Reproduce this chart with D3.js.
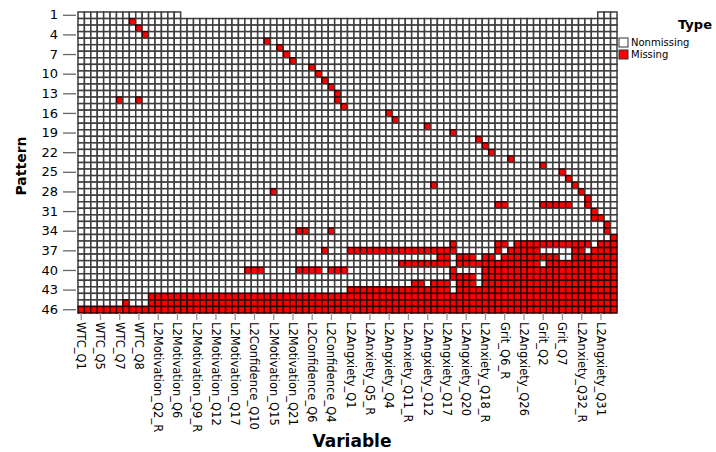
<!DOCTYPE html>
<html>
<head>
<meta charset="utf-8">
<script src="https://cdn.jsdelivr.net/npm/d3@7/dist/d3.min.js"></script>
<style>
  body { margin: 0; background: #fff; }
  text { font-family: "DejaVu Sans", sans-serif; }
</style>
</head>
<body>
<script>
const width  = 716
const height = 452

// labelled variables (every third column carries a label)
const varLabels = [
  "WTC_Q1", "WTC_Q5", "WTC_Q7", "WTC_Q8",
  "L2Motivation_Q2_R", "L2Motivation_Q6", "L2Motivation_Q9_R", "L2Motivation_Q12",
  "L2Motivation_Q17", "L2Confidence_Q10", "L2Motivation_Q15", "L2Motivation_Q21",
  "L2Confidence_Q6", "L2Confidence_Q4", "L2Angxiety_Q1", "L2Anxiety_Q5_R",
  "L2Angxiety_Q4", "L2Anxiety_Q11_R", "L2Angxiety_Q12", "L2Angxiety_Q17",
  "L2Angxiety_Q20", "L2Anxiety_Q18_R", "Grit_Q6_R", "L2Angxiety_Q26",
  "Grit_Q2", "Grit_Q7", "L2Anxiety_Q32_R", "L2Angxiety_Q31"
]
const colsPerLabel = 3

const patterns = d3.range(1, 47)

// missing columns for each pattern (1..46)
const missing = [
  "",                                   // 1
  "8", "9", "10",                       // 2-4
  "29", "31", "32", "33",               // 5-8
  "36", "37", "38", "39", "40",         // 9-13
  "6,9,40", "41",                       // 14-15
  "48", "49", "54", "58",               // 16-19
  "62", "63", "64", "67",               // 20-23
  "72", "75", "76", "55,77",            // 24-27
  "30,78", "79", "65-66,72-76,79",      // 28-30
  "80", "80-81", "82",                  // 31-33
  "34-35,39,82", "83",                  // 34-35
  "58,65-66,68-79,81-83",               // 36
  "38,42-58,65,67-71,77-78,80-83",      // 37
  "56-57,59-61,63-64,66-74,77-83",      // 38
  "50-57,59-71,73-83",                  // 39
  "26-28,34-37,39-41,58,63-83",         // 40
  "58-61,63-83",                        // 41
  "52-53,55-57,59-61,63-83",            // 42
  "42-57,59-83",                        // 43
  "11-83",                              // 44
  "7,11-83",                            // 45
  "0-83"                                // 46
]
// pattern 1 is only drawn in these columns in the source picture
const row1Shown = "0-15,81-83"

const typeLabels = ["Nonmissing", "Missing"]
const typeColors = ["#ffffff", "#ff0000"]

function parseCols(s) {
  const out = new Set()
  if (!s) return out
  s.split(",").forEach(part => {
    const [a, b] = part.split("-").map(Number)
    for (let c = a; c <= (b === undefined ? a : b); c++) out.add(c)
  })
  return out
}

const nCols = varLabels.length * colsPerLabel
const shown1 = parseCols(row1Shown)

const cells = []
patterns.forEach((p, i) => {
  const miss = parseCols(missing[i])
  for (let c = 0; c < nCols; c++) {
    if (p === 1 && !shown1.has(c)) continue
    cells.push({ p: p, c: c, type: miss.has(c) ? 1 : 0 })
  }
})

const x = d3.scaleBand().domain(d3.range(nCols)).range([78, 617])
const y = d3.scaleBand().domain(patterns).range([12, 313])
const colour = d3.scaleOrdinal().domain([0, 1]).range(typeColors)

const svg = d3.select("body").append("svg")
  .attr("width", width)
  .attr("height", height)

//draw cells
svg.append("g")
  .selectAll("rect")
  .data(cells)
  .join("rect")
    .attr("x", d => x(d.c))
    .attr("y", d => y(d.p))
    .attr("width", x.bandwidth())
    .attr("height", y.bandwidth())
    .attr("fill", d => colour(d.type))
    .attr("stroke", d => d.type ? "#300000" : "#3d3d3d")
    .attr("stroke-width", 1.5)

//y axis
svg.append("g")
  .attr("transform", "translate(76,0)")
  .call(d3.axisLeft(y)
    .tickValues(patterns.filter(p => (p - 1) % 3 === 0))
    .tickSize(13)
    .tickPadding(5))
  .call(g => g.select(".domain").remove())
  .call(g => g.selectAll(".tick line").attr("stroke", "#666").attr("stroke-width", 1.3))
  .call(g => g.selectAll(".tick text")
    .attr("font-size", 13)
    .attr("font-family", "DejaVu Sans")
    .attr("fill", "#000"))

//x axis
svg.append("g")
  .attr("transform", "translate(0,313)")
  .call(d3.axisBottom(x)
    .tickValues(d3.range(0, nCols, colsPerLabel))
    .tickFormat(c => varLabels[c / colsPerLabel])
    .tickSize(7))
  .call(g => g.select(".domain").remove())
  .call(g => g.selectAll(".tick line").attr("stroke", "#999").attr("stroke-width", 1.3))
  .call(g => g.selectAll(".tick text")
    .attr("font-size", 11.5)
    .attr("font-family", "DejaVu Sans")
    .attr("fill", "#000")
    .attr("text-anchor", "start")
    .attr("transform", "rotate(90)")
    .attr("x", 9)
    .attr("y", 0)
    .attr("dy", "0.35em"))

//axis titles
svg.append("text")
  .attr("transform", "translate(26,166) rotate(-90)")
  .attr("text-anchor", "middle")
  .attr("font-size", 14)
  .attr("font-weight", "bold")
  .text("Pattern")

svg.append("text")
  .attr("x", 352)
  .attr("y", 447)
  .attr("text-anchor", "middle")
  .attr("font-size", 17)
  .attr("font-weight", "bold")
  .text("Variable")

//legend
const legend = svg.append("g")
legend.append("text")
  .attr("x", 695)
  .attr("y", 29)
  .attr("text-anchor", "middle")
  .attr("font-size", 13)
  .attr("font-weight", "bold")
  .text("Type")

legend.selectAll("g.item")
  .data(typeLabels)
  .join("g")
    .attr("class", "item")
    .attr("transform", (d, i) => `translate(619,${38 + i * 12})`)
    .call(g => g.append("rect")
      .attr("width", 9)
      .attr("height", 9)
      .attr("fill", (d, i) => typeColors[i])
      .attr("stroke", "#333"))
    .call(g => g.append("text")
      .attr("x", 12)
      .attr("y", 8)
      .attr("font-size", 10)
      .text(d => d))
</script>
</body>
</html>
